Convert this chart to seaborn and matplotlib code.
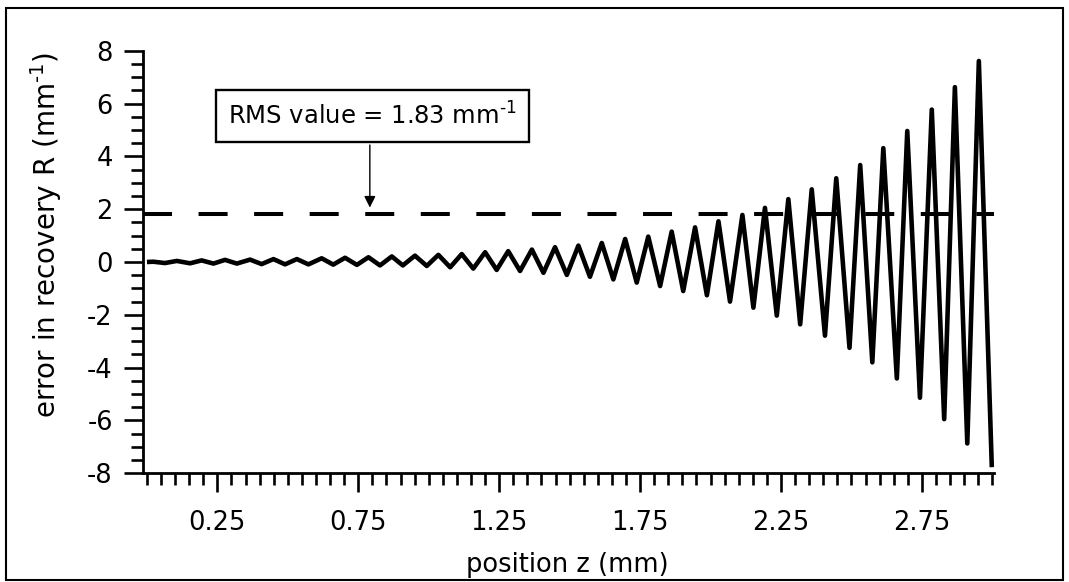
import numpy as np
import pandas as pd
import matplotlib
matplotlib.use("Agg")
import matplotlib.pyplot as plt
import seaborn as sns
from matplotlib.ticker import FixedLocator, MultipleLocator
from matplotlib.patches import Rectangle

# ---- data ----
start_z = [0.0]
start_R = [0.0]

peak_z = [0.023, 0.106, 0.194, 0.277, 0.366, 0.449, 0.532, 0.620, 0.703, 0.786,
          0.869, 0.951, 1.034, 1.117, 1.200, 1.282, 1.366, 1.448, 1.531, 1.614,
          1.697, 1.779, 1.862, 1.945, 2.028, 2.113, 2.193, 2.276, 2.359, 2.446,
          2.531, 2.613, 2.698, 2.785, 2.867, 2.952]
peak_R = [0.01, 0.04, 0.06, 0.08, 0.09, 0.11, 0.11, 0.14, 0.16, 0.18,
          0.21, 0.24, 0.27, 0.30, 0.37, 0.41, 0.47, 0.56, 0.62, 0.72,
          0.87, 0.96, 1.15, 1.31, 1.54, 1.78, 2.05, 2.38, 2.75, 3.17,
          3.67, 4.31, 4.96, 5.77, 6.62, 7.61]

trough_z = [0.064, 0.153, 0.236, 0.319, 0.407, 0.490, 0.573, 0.661, 0.745, 0.827,
            0.908, 0.993, 1.076, 1.158, 1.241, 1.324, 1.407, 1.490, 1.572, 1.655,
            1.738, 1.821, 1.903, 1.987, 2.069, 2.152, 2.235, 2.318, 2.406, 2.493,
            2.574, 2.661, 2.743, 2.829, 2.911, 2.998]
trough_R = [-0.04, -0.05, -0.06, -0.06, -0.08, -0.09, -0.09, -0.10, -0.11, -0.13,
            -0.13, -0.15, -0.20, -0.25, -0.30, -0.34, -0.41, -0.49, -0.56, -0.66,
            -0.78, -0.91, -1.10, -1.26, -1.50, -1.73, -2.03, -2.36, -2.79, -3.25,
            -3.80, -4.41, -5.14, -5.95, -6.87, -7.77]

rms_value = 1.83
rms_label = "RMS value = 1.83 mm$^{\\text{-}1}$"
x_ticks = [0.25, 0.75, 1.25, 1.75, 2.25, 2.75]
x_tick_labels = ["0.25", "0.75", "1.25", "1.75", "2.25", "2.75"]
y_ticks = [-8, -6, -4, -2, 0, 2, 4, 6, 8]
y_tick_labels = ["-8", "-6", "-4", "-2", "0", "2", "4", "6", "8"]
x_label = "position z (mm)"
y_label = "error in recovery R (mm$^{\\text{-}1}$)"

# ---- style ----
sns.set_theme(style="white")
plt.rcParams.update({
    "axes.unicode_minus": False,
    "lines.scale_dashes": False,
    "mathtext.default": "regular",
})
plt.rcParams["font.family"] = ["DejaVu Sans"]

df = pd.DataFrame({"z": start_z + peak_z + trough_z,
                   "R": start_R + peak_R + trough_R}).sort_values("z")

fig = plt.figure(figsize=(10.69, 5.82), dpi=100)
ax = fig.add_axes([0.1335, 0.1868, 0.7964, 0.7261])

sns.lineplot(data=df, x="z", y="R", color="black", linewidth=3.3,
             estimator=None, sort=True, ax=ax,
             solid_joinstyle="round", solid_capstyle="butt")

ax.axhline(rms_value, color="black", linewidth=2.9,
           linestyle=(0, (20.9, 19.1)), dash_capstyle="butt")

ax.set_xlim(-0.015, 3.006)
ax.set_ylim(-8, 8)

for s in ["top", "right"]:
    ax.spines[s].set_visible(False)
for s in ["left", "bottom"]:
    ax.spines[s].set_linewidth(2.0)
    ax.spines[s].set_color("black")

ax.xaxis.set_major_locator(FixedLocator(x_ticks))
ax.set_xticklabels(x_tick_labels)
ax.xaxis.set_minor_locator(MultipleLocator(0.05))
ax.yaxis.set_major_locator(FixedLocator(y_ticks))
ax.set_yticklabels(y_tick_labels)
ax.yaxis.set_minor_locator(MultipleLocator(0.5))

ax.tick_params(axis="both", which="major", direction="out", length=14,
               width=1.9, color="black", labelsize=18.5, labelcolor="black")
ax.tick_params(axis="both", which="minor", direction="out", length=8.5,
               width=1.9, color="black")
ax.tick_params(axis="x", which="major", pad=12.5, bottom=True)
ax.tick_params(axis="x", which="minor", bottom=True)
ax.tick_params(axis="y", which="major", pad=7.5, left=True)
ax.tick_params(axis="y", which="minor", left=True)

ax.set_xlabel(x_label, fontsize=18.5, color="black")
ax.set_ylabel(y_label, fontsize=20, color="black")
ax.xaxis.set_label_coords(0.499, -0.1855)
ax.yaxis.set_label_coords(-0.092, 0.564)

ax.grid(False)

# annotation box and arrow
ax.text(0.801, 5.52, rms_label, fontsize=17.5, color="black",
        ha="center", va="center",
        bbox=dict(boxstyle="square,pad=0.5", facecolor="white",
                  edgecolor="black", linewidth=1.7))
ax.annotate("", xy=(0.791, 2.06), xytext=(0.791, 4.43),
            arrowprops=dict(arrowstyle="-|>", color="black", lw=1.0,
                            mutation_scale=17, shrinkA=0, shrinkB=0))

# outer frame
fig.patches.append(Rectangle((0.006, 0.004), 0.988, 0.983,
                             transform=fig.transFigure, fill=False,
                             edgecolor="black", linewidth=1.5))

fig.savefig("out.png", dpi=100)
